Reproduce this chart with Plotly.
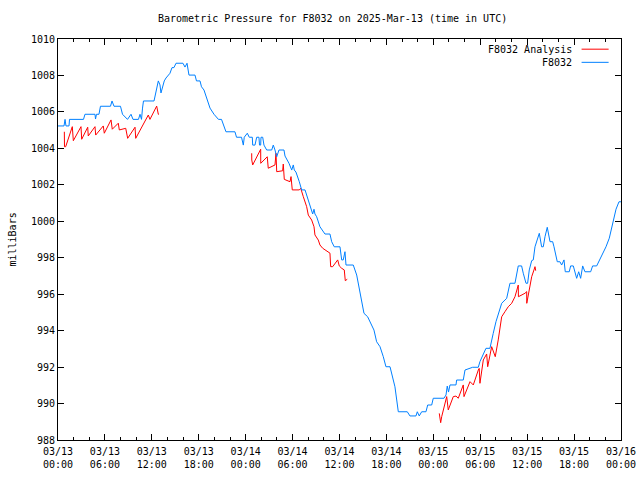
import pandas as pd
import plotly.graph_objects as go

START = pd.Timestamp("2025-03-13 00:00")

# F8032 observed pressure: hours after 03/13 00:00 UTC, millibars
obs_hours = [0, 0.77, 0.90, 1.02, 1.41, 1.47, 3.26, 3.45, 4.73, 4.80,
             4.92, 5.24, 5.43, 6.71, 6.91, 7.16, 7.99, 8.25, 8.89, 9.34,
             9.59, 10.29, 10.49, 10.68, 10.81, 10.93, 12.28, 12.47, 12.83, 13.04,
             13.17, 13.59, 13.81, 14.32, 14.58, 14.83, 15.09, 15.98, 16.24, 16.50,
             16.75, 17.52, 17.71, 18.16, 18.35, 18.67, 19.12, 19.44, 19.95, 20.52,
             20.91, 21.23, 21.48, 22.63, 22.83, 23.47, 23.70, 23.82, 24.21, 24.46,
             24.85, 24.90, 25.19, 25.41, 25.70, 25.77, 25.92, 25.96, 26.18, 26.34,
             26.69, 27.33, 27.53, 27.75, 27.97, 28.26, 28.90, 29.03, 29.54, 29.89,
             30.09, 30.22, 30.43, 30.86, 31.16, 31.59, 32.01, 32.44, 32.57, 32.74,
             32.86, 33.08, 33.50, 34.14, 34.78, 35.00, 35.33, 36.06, 36.28, 36.48,
             36.70, 36.83, 37.76, 38.20, 38.40, 38.71, 39.13, 39.60, 39.99, 40.41,
             40.75, 41.18, 41.60, 41.94, 42.46, 43.09, 43.52, 44.67, 45.01, 45.78,
             45.95, 46.20, 46.51, 47.06, 47.28, 47.79, 47.99, 49.36, 49.62, 49.78,
             49.94, 50.13, 50.90, 50.98, 51.83, 52.05, 53.03, 53.75, 53.96, 54.31,
             54.73, 55.24, 55.46, 55.66, 56.01, 56.30, 56.74, 57.16, 57.38, 57.80,
             58.44, 58.86, 59.29, 59.50, 59.85, 60.06, 60.27, 60.58, 60.78, 61.00,
             61.21, 61.55, 61.85, 62.06, 62.28, 62.57, 62.92, 63.26, 63.43, 63.85,
             64.19, 64.41, 64.71, 64.87, 65.38, 65.56, 65.90, 66.11, 66.33, 66.59,
             66.84, 67.10, 67.39, 68.12, 68.37, 68.89, 69.22, 69.65, 70.08, 70.50,
             70.81, 71.10, 71.36, 71.74, 72.00]
obs_mb = [1005.23, 1005.23, 1005.59, 1005.23, 1005.23, 1005.59, 1005.59, 1005.87, 1005.87, 1005.61,
          1005.87, 1005.87, 1006.31, 1006.31, 1006.60, 1006.31, 1006.31, 1005.87, 1005.59, 1005.87,
          1005.59, 1005.59, 1005.87, 1005.59, 1006.21, 1006.60, 1006.60, 1007.02, 1007.70, 1007.48,
          1007.04, 1007.70, 1007.86, 1008.12, 1008.43, 1008.43, 1008.67, 1008.67, 1008.46, 1008.67,
          1008.02, 1008.02, 1007.70, 1007.70, 1007.38, 1007.20, 1006.60, 1006.21, 1005.87, 1005.59,
          1005.59, 1005.23, 1004.91, 1004.91, 1004.61, 1004.61, 1004.18, 1004.61, 1004.83, 1004.61,
          1004.61, 1004.18, 1004.18, 1004.61, 1004.61, 1004.18, 1004.18, 1004.61, 1004.61, 1004.18,
          1003.91, 1003.91, 1004.18, 1003.91, 1003.54, 1003.91, 1003.91, 1003.58, 1003.18, 1002.81,
          1003.09, 1002.81, 1002.70, 1002.17, 1001.72, 1001.72, 1001.17, 1000.66, 1000.40, 1000.66,
          1000.40, 1000.25, 999.70, 999.30, 999.30, 998.88, 998.60, 998.60, 997.88, 997.88,
          998.33, 997.60, 997.60, 997.05, 996.60, 995.86, 994.95, 994.76, 994.40, 994.03,
          993.39, 993.12, 992.57, 992.02, 992.02, 990.92, 989.55, 989.55, 989.32, 989.32,
          989.55, 989.32, 989.55, 989.55, 989.92, 989.92, 990.29, 990.29, 990.47, 990.96,
          990.63, 991.02, 991.02, 991.29, 991.29, 991.84, 991.99, 991.99, 992.30, 992.66,
          993.03, 993.03, 993.39, 993.85, 994.49, 994.95, 995.50, 995.68, 995.77, 996.60,
          996.60, 997.55, 997.55, 997.15, 996.60, 996.60, 997.33, 997.84, 997.88, 998.60,
          998.88, 999.34, 998.60, 998.60, 999.15, 999.67, 998.88, 998.88, 998.60, 997.78,
          997.78, 997.60, 997.88, 997.23, 997.23, 997.55, 997.55, 997.23, 996.87, 997.23,
          996.87, 997.55, 997.23, 997.23, 997.55, 997.55, 997.84, 998.15, 998.60, 999.07,
          999.67, 1000.16, 1000.66, 1001.07, 1001.07]

# F8032 Analysis (three runs separated by gaps = None)
ana_hours = [0.81, 0.83, 0.98, 1.83, 1.96, 2.94, 3.03, 3.80, 3.87, 4.73,
             4.82, 5.79, 5.92, 6.78, 6.94, 7.71, 7.84, 8.66, 8.91, 9.85,
             9.94, 11.55, 11.76, 12.62, 12.83, 12.92, None,
             24.77, 24.78, 24.90, 25.74, 25.92, 25.93, 26.76, 26.89, 27.75, 27.88,
             27.97, 28.73, 28.81, 28.94, 29.67, 29.80, 29.96, 30.86, 31.04, 31.37,
             31.80, 32.01, 32.44, 32.74, 32.86, 33.29, 33.50, 33.85, 34.57, 34.78,
             34.87, 35.13, 35.77, 35.97, 36.28, 36.61, 36.74, 36.99, None,
             48.76, 48.94, 49.07, 49.49, 49.71, 49.91, 50.55, 50.90, 51.19, 51.83,
             51.92, 52.69, 53.11, 53.75, 53.87, 53.96, 54.39, 54.82, 54.95, 55.46,
             55.92, 56.30, 56.52, 56.74, 57.16, 57.58, 58.02, 58.44, 58.86, 58.88,
             59.72, 59.94, 59.95, 60.36, 60.58, 60.87, 61.00, 61.09]
ana_mb = [1004.91, 1004.09, 1004.09, 1005.19, 1004.42, 1005.19, 1004.50, 1005.16, 1004.68, 1005.19,
          1004.73, 1005.23, 1004.83, 1005.56, 1005.05, 1005.38, 1005.01, 1005.10, 1004.55, 1005.16,
          1004.55, 1005.83, 1005.59, 1006.32, 1005.87, 1005.87, None,
          1003.73, 1003.36, 1003.09, 1003.73, 1003.95, 1003.18, 1003.54, 1002.91, 1003.09, 1003.73,
          1002.72, 1002.77, 1003.14, 1002.30, 1002.17, 1002.45, 1001.72, 1001.72, 1001.81, 1001.35,
          1000.80, 1000.34, 1000.07, 999.70, 999.25, 998.97, 998.70, 998.52, 998.33, 998.25,
          997.51, 997.51, 997.88, 997.55, 997.42, 997.33, 996.74, 996.82, None,
          989.46, 988.95, 989.28, 989.97, 990.38, 989.65, 990.38, 990.41, 990.29, 991.02,
          990.38, 991.20, 991.02, 991.84, 991.93, 991.11, 992.39, 992.72, 992.02, 993.12,
          992.57, 993.49, 994.03, 994.76, 995.04, 995.31, 995.50, 995.86, 996.50, 995.86,
          996.05, 996.14, 995.50, 996.60, 996.96, 997.33, 997.51, 997.29]

tick_hours = [0, 6, 12, 18, 24, 30, 36, 42, 48, 54, 60, 66, 72]
tick_text = ["03/13<br>00:00", "03/13<br>06:00", "03/13<br>12:00", "03/13<br>18:00",
             "03/14<br>00:00", "03/14<br>06:00", "03/14<br>12:00", "03/14<br>18:00",
             "03/15<br>00:00", "03/15<br>06:00", "03/15<br>12:00", "03/15<br>18:00",
             "03/16<br>00:00"]
y_ticks = [988, 990, 992, 994, 996, 998, 1000, 1002, 1004, 1006, 1008, 1010]

RED = "#ff0000"
BLUE = "#0080ff"
FONT = "DejaVu Sans Mono"


def to_time(hours):
    return [None if h is None else START + pd.Timedelta(hours=h) for h in hours]


fig = go.Figure()
fig.add_trace(go.Scatter(x=to_time(ana_hours), y=ana_mb, mode="lines",
                         line=dict(color=RED, width=1), name="F8032 Analysis",
                         connectgaps=False, hoverinfo="skip"))
fig.add_trace(go.Scatter(x=to_time(obs_hours), y=obs_mb, mode="lines",
                         line=dict(color=BLUE, width=1), name="F8032",
                         hoverinfo="skip"))

axis_common = dict(showline=True, linecolor="black", linewidth=1, mirror="allticks",
                   ticks="inside", ticklen=6, tickwidth=1, tickcolor="black",
                   showgrid=False, zeroline=False, automargin=False,
                   tickfont=dict(family=FONT, size=10, color="black"))

fig.update_xaxes(range=[START, START + pd.Timedelta(hours=72)],
                 tickvals=to_time(tick_hours), ticktext=tick_text,
                 ticklabelstandoff=2,
                 minor=dict(dtick=2 * 3600 * 1000, ticks="inside", ticklen=3,
                            tickcolor="black", tickwidth=1, showgrid=False),
                 **axis_common)
fig.update_yaxes(range=[988, 1010], tickvals=y_ticks,
                 ticktext=[str(v) for v in y_ticks], **axis_common)

annotations = [
    dict(text="Barometric Pressure for F8032 on 2025-Mar-13 (time in UTC)",
         x=0.488, y=1.05, xref="paper", yref="paper", showarrow=False,
         xanchor="center", yanchor="middle", font=dict(family=FONT, size=10, color="black")),
    dict(text="milliBars", x=-0.0817, y=0.5, xref="paper", yref="paper", showarrow=False,
         textangle=-90, xanchor="center", yanchor="middle",
         font=dict(family=FONT, size=10, color="black")),
    dict(text="F8032 Analysis", x=0.9165, y=0.973, xref="paper", yref="paper", showarrow=False,
         xanchor="right", yanchor="middle", font=dict(family=FONT, size=10, color="black")),
    dict(text="F8032", x=0.9165, y=0.9415, xref="paper", yref="paper", showarrow=False,
         xanchor="right", yanchor="middle", font=dict(family=FONT, size=10, color="black")),
]
shapes = [
    dict(type="line", xref="paper", yref="paper", x0=0.930, x1=0.978, y0=0.9746, y1=0.9746,
         line=dict(color=RED, width=1)),
    dict(type="line", xref="paper", yref="paper", x0=0.930, x1=0.978, y0=0.9418, y1=0.9418,
         line=dict(color=BLUE, width=1)),
]

fig.update_layout(width=640, height=480, margin=dict(l=58, r=19, t=39, b=40),
                  paper_bgcolor="white", plot_bgcolor="white", showlegend=False,
                  annotations=annotations, shapes=shapes,
                  font=dict(family=FONT, size=10, color="black"))

fig.write_html("out.html", config={"responsive": False, "displayModeBar": False},
               post_script="document.body.style.margin='0';document.body.style.overflow='hidden';")
